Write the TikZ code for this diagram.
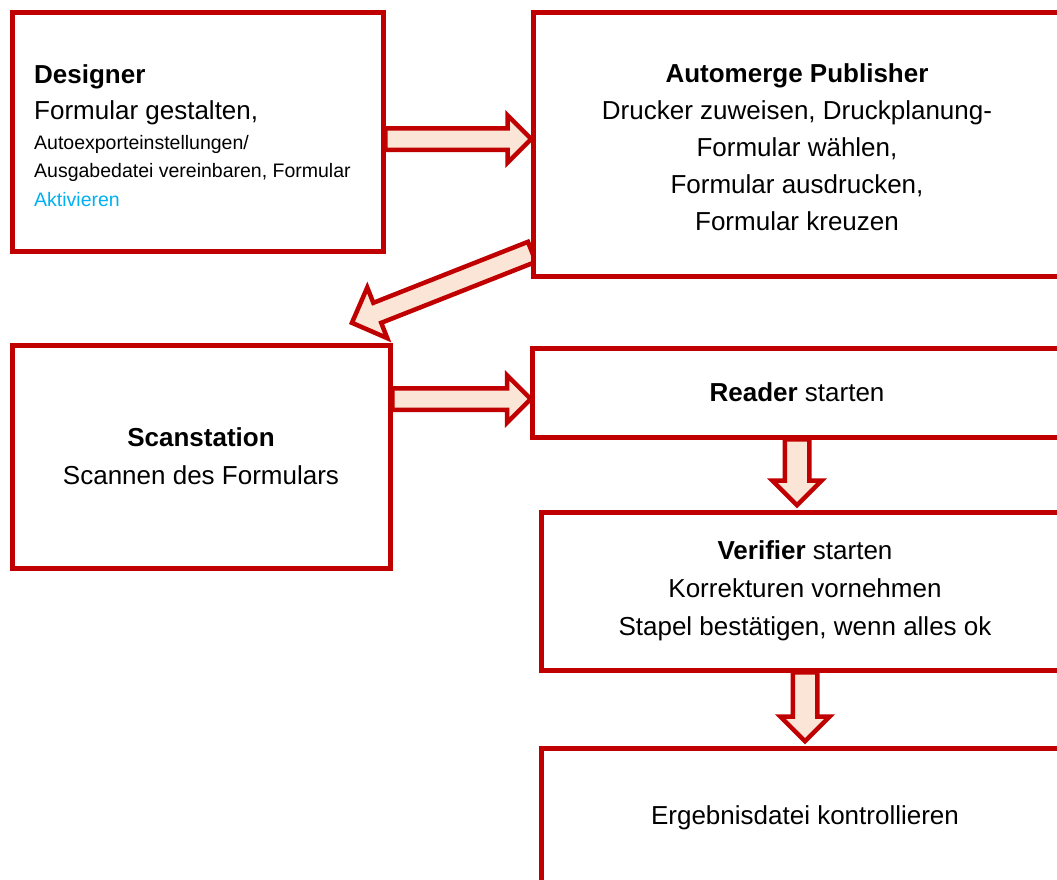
\documentclass[tikz,border=0pt]{standalone}
\usepackage{fontspec}
\setmainfont{Liberation Sans}
\usetikzlibrary{shapes.arrows,calc,backgrounds}
\definecolor{boxred}{HTML}{C00000}
\definecolor{arrfill}{HTML}{FBE5D6}
\definecolor{linkblue}{HTML}{00B0F0}

\begin{document}
\begin{tikzpicture}[x=1pt,y=-1pt]

\tikzstyle{box}=[draw=boxred,fill=white,line width=5pt,rectangle,inner sep=0pt,font=\fontsize{26}{38}\selectfont,align=center];
\tikzstyle{arr}=[single arrow,draw=boxred,fill=arrfill,line width=4.5pt,inner xsep=0pt,inner ysep=8.5pt,single arrow head extend=13pt,single arrow tip angle=90,anchor=tail,sloped,allow upside down];

\useasboundingbox (0,0) rectangle (1057,879);
\clip (0,0) rectangle (1057,879);

% boxes
\node[box,minimum width=371pt,minimum height=238.5pt] (b1) at (197.5,131.75) {};
\node[anchor=north west,inner sep=0pt,text width=330pt,align=flush left,font=\fontsize{19.5}{28.5}\selectfont] (b1t) at (34,64)
  {\fontsize{26}{36}\selectfont\textbf{Designer}\\
   Formular gestalten,\\[1.5pt]
   \fontsize{19.5}{28.5}\selectfont Autoexporteinstellungen/\\
   Ausgabedatei vereinbaren, Formular\\
   \textcolor{linkblue}{Aktivieren}};
\node[box,minimum width=528pt,minimum height=264pt] (b2) at (797,144) {};
\node[inner sep=0pt,align=center,font=\fontsize{26}{37}\selectfont] (b2t) at (797,147.5)
  {\textbf{Automerge Publisher}\\Drucker zuweisen, Druckplanung-\\Formular w\"ahlen,\\Formular ausdrucken,\\Formular kreuzen};
\node[box,minimum width=378pt,minimum height=223pt] (b3) at (201,456.5)
  {\textbf{Scanstation}\\Scannen des Formulars};
\node[box,minimum width=530pt,minimum height=89pt] (b4) at (797,392.5)
  {\textbf{Reader} starten};
\node[box,minimum width=528pt,minimum height=158pt] (b5) at (805,591)
  {\textbf{Verifier} starten\\Korrekturen vornehmen\\Stapel best\"atigen, wenn alles ok};
\node[box,minimum width=528pt,minimum height=140pt] (b6) at (805,818)
  {Ergebnisdatei kontrollieren};

% arrow ends
\coordinate (c1s) at (383,139);
\coordinate (c1e) at (529,139);
\coordinate (c2s) at (534,251);
\coordinate (c2e) at (354,322);
\coordinate (c3s) at (390,399);
\coordinate (c3e) at (528.5,399);
\coordinate (c4s) at (797,437);
\coordinate (c4e) at (797,503);
\coordinate (c5s) at (805,670);
\coordinate (c5e) at (805,739);

\begin{pgfonlayer}{background}
\fill[white] (0,0) rectangle (1057,879);
\path let \p1=($(c1e)-(c1s)$) in (c1s) -- (c1e) node[arr,pos=0,minimum height={veclen(\x1,\y1)}] (a1) {};
\path let \p1=($(c2e)-(c2s)$) in (c2s) -- (c2e) node[arr,pos=0,single arrow head extend=16.5pt,minimum height={veclen(\x1,\y1)}] (a2) {};
\path let \p1=($(c3e)-(c3s)$) in (c3s) -- (c3e) node[arr,pos=0,minimum height={veclen(\x1,\y1)}] (a3) {};
\path let \p1=($(c4e)-(c4s)$) in (c4s) -- (c4e) node[arr,pos=0,inner ysep=10pt,single arrow head extend=12.5pt,minimum height={veclen(\x1,\y1)}] (a4) {};
\path let \p1=($(c5e)-(c5s)$) in (c5s) -- (c5e) node[arr,pos=0,inner ysep=10pt,single arrow head extend=12.5pt,minimum height={veclen(\x1,\y1)}] (a5) {};
\end{pgfonlayer}
\end{tikzpicture}
\end{document}
